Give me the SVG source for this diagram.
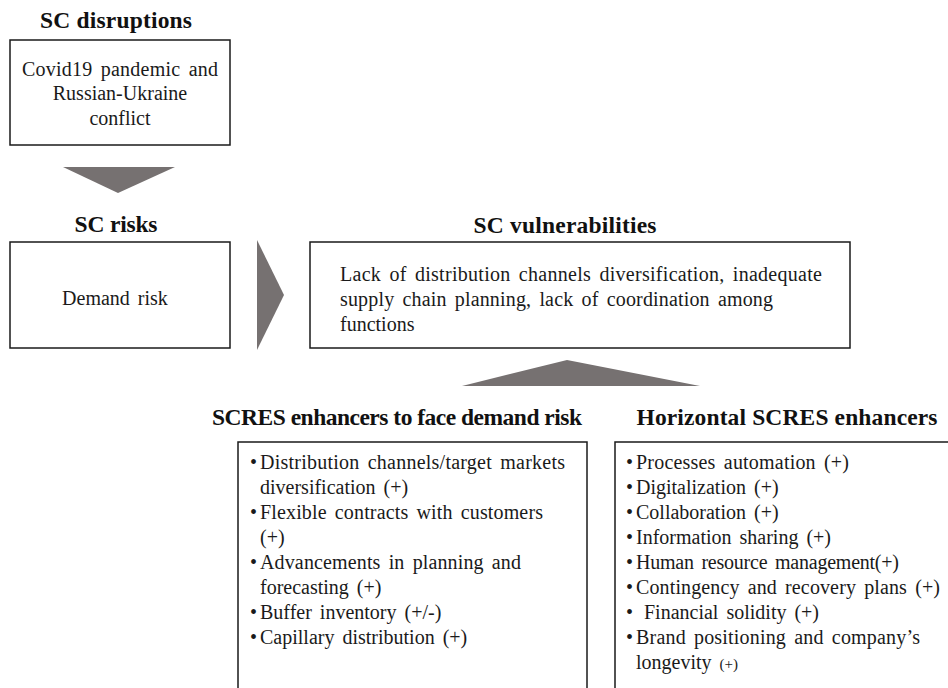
<svg xmlns="http://www.w3.org/2000/svg" width="948" height="688" viewBox="0 0 948 688">
<style>
.t{font-size:20px;fill:#1a1a1a;word-spacing:3px}
.h{font-size:23.5px;font-weight:bold;fill:#111}
.b{fill:#fff;stroke:#1a1a1a;stroke-width:1.5}
.a{fill:#767171}
</style>
<rect width="948" height="688" fill="#fff"/>
<g id="connectors">
<polygon class="a" points="63,167 175,167 118,193"/>
<polygon class="a" points="257,240 284,295 257,350"/>
<polygon class="a" points="462,386 567,360 700,386"/>
</g>
<g font-family="Liberation Serif">
<g id="disruptions">
<text class="h" x="116" y="28" text-anchor="middle" textLength="152" lengthAdjust="spacing">SC disruptions</text>
<rect class="b" x="10" y="40" width="220" height="105"/>
<text class="t" x="120" y="76" text-anchor="middle" textLength="196" lengthAdjust="spacing">Covid19 pandemic and</text>
<text class="t" x="120" y="100" text-anchor="middle">Russian-Ukraine</text>
<text class="t" x="120" y="125" text-anchor="middle">conflict</text>
</g>
<g id="risks">
<text class="h" x="116" y="232" text-anchor="middle" textLength="83" lengthAdjust="spacing">SC risks</text>
<rect class="b" x="10" y="242" width="220" height="106"/>
<text class="t" x="115" y="305" text-anchor="middle">Demand risk</text>
</g>
<g id="vulnerabilities">
<text class="h" x="565" y="233" text-anchor="middle" textLength="183" lengthAdjust="spacing">SC vulnerabilities</text>
<rect class="b" x="310" y="242" width="540" height="106"/>
<text class="t" x="340" y="281" textLength="482" lengthAdjust="spacing">Lack of distribution channels diversification, inadequate</text>
<text class="t" x="340" y="306" textLength="433" lengthAdjust="spacing">supply chain planning, lack of coordination among</text>
<text class="t" x="340" y="331">functions</text>
</g>
<g id="demand-enhancers">
<text class="h" x="397" y="425" text-anchor="middle" textLength="370" lengthAdjust="spacing">SCRES enhancers to face demand risk</text>
<rect class="b" x="238" y="442" width="349" height="260"/>
<g class="t">
<text x="250" y="469">•</text><text x="260" y="469" textLength="305" lengthAdjust="spacing">Distribution channels/target markets</text>
<text x="260" y="494">diversification (+)</text>
<text x="250" y="519">•</text><text x="260" y="519" textLength="283" lengthAdjust="spacing">Flexible contracts with customers</text>
<text x="260" y="544">(+)</text>
<text x="250" y="569">•</text><text x="260" y="569" textLength="261" lengthAdjust="spacing">Advancements in planning and</text>
<text x="260" y="594">forecasting (+)</text>
<text x="250" y="619">•</text><text x="260" y="619">Buffer inventory (+/-)</text>
<text x="250" y="644">•</text><text x="260" y="644">Capillary distribution (+)</text>
</g>
</g>
<g id="horizontal-enhancers">
<text class="h" x="787" y="425" text-anchor="middle" textLength="301" lengthAdjust="spacing">Horizontal SCRES enhancers</text>
<rect class="b" x="615" y="442" width="345" height="260"/>
<g class="t">
<text x="626" y="469">•</text><text x="636" y="469" textLength="213" lengthAdjust="spacing">Processes automation (+)</text>
<text x="626" y="494">•</text><text x="636" y="494">Digitalization (+)</text>
<text x="626" y="519">•</text><text x="636" y="519">Collaboration (+)</text>
<text x="626" y="544">•</text><text x="636" y="544">Information sharing (+)</text>
<text x="626" y="569">•</text><text x="636" y="569" textLength="263" lengthAdjust="spacing">Human resource management(+)</text>
<text x="626" y="594">•</text><text x="636" y="594" textLength="304" lengthAdjust="spacing">Contingency and recovery plans (+)</text>
<text x="626" y="619">•</text><text x="644" y="619">Financial solidity (+)</text>
<text x="626" y="644">•</text><text x="636" y="644" textLength="284" lengthAdjust="spacing">Brand positioning and company’s</text>
<text x="636" y="669">longevity <tspan font-size="15">(+)</tspan></text>
</g>
</g>
</g>
</svg>
